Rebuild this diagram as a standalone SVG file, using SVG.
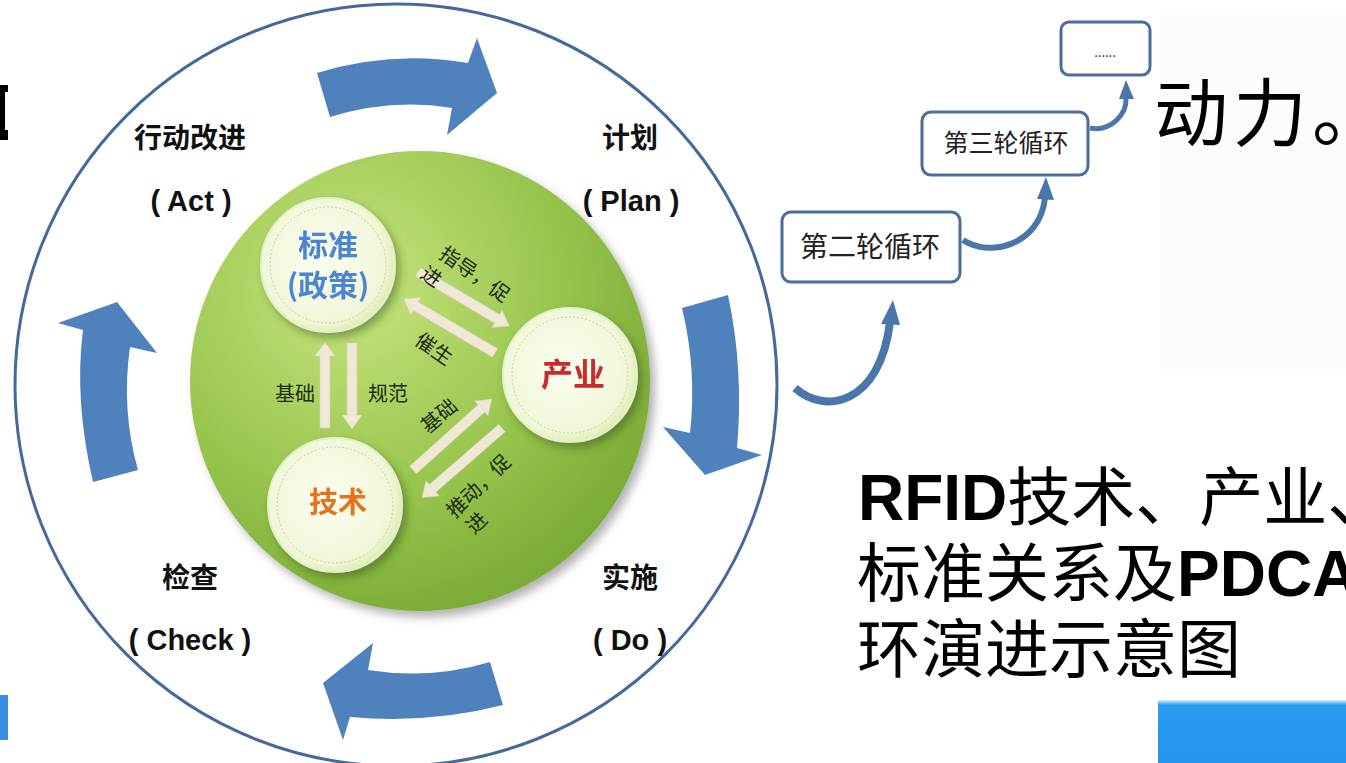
<svg xmlns="http://www.w3.org/2000/svg" width="1346" height="763" viewBox="0 0 1346 763">
<style>
.cn{font-family:"Noto Sans CJK SC","Liberation Sans",sans-serif;}
.phase{font-family:"Noto Sans CJK SC",sans-serif;font-size:28px;font-weight:bold;fill:#111;text-anchor:middle;}
.eng{font-family:"Liberation Sans","Noto Sans CJK SC",sans-serif;font-size:29px;font-weight:bold;fill:#111;text-anchor:middle;}
.rel{font-family:"Noto Sans CJK SC",sans-serif;font-size:20px;fill:#1e2a10;}
.box{fill:#fff;stroke:#4a6f9c;stroke-width:3;}
.boxt{font-family:"Noto Sans CJK SC",sans-serif;fill:#222;text-anchor:middle;}
.cyc{fill:#4f81bd;}
.carr{fill:#eee8d5;stroke:#d9d2bb;stroke-width:0.6;}
.link{fill:none;stroke:#4a76ab;}
.linkhead{fill:#4a76ab;}
.title{font-family:"Noto Sans CJK SC","Liberation Sans",sans-serif;font-size:64px;fill:#000;}
</style>
<defs>
<radialGradient id="green" cx="0.35" cy="0.3" r="0.75">
<stop offset="0" stop-color="#c8e47e"/>
<stop offset="0.6" stop-color="#98c54e"/>
<stop offset="1" stop-color="#7aab35"/>
</radialGradient>
<radialGradient id="node" cx="0.45" cy="0.45" r="0.6">
<stop offset="0" stop-color="#fbfdf0"/>
<stop offset="0.8" stop-color="#f0f7d8"/>
<stop offset="1" stop-color="#d6e9a8"/>
</radialGradient>
<linearGradient id="bluebox" x1="0" y1="0" x2="0" y2="1">
<stop offset="0" stop-color="#d8f0ff"/>
<stop offset="0.08" stop-color="#2a9cf2"/>
<stop offset="1" stop-color="#2594ee"/>
</linearGradient>
<filter id="shadow" x="-20%" y="-20%" width="150%" height="150%">
<feDropShadow dx="4" dy="5" stdDeviation="4" flood-color="#2f4a14" flood-opacity="0.45"/>
</filter>
<filter id="gshadow" x="-10%" y="-10%" width="125%" height="125%">
<feDropShadow dx="5" dy="6" stdDeviation="5" flood-color="#555" flood-opacity="0.45"/>
</filter>
<polygon id="ca106" points="0,-5 92,-5 92,-10 106,0 92,10 92,5 0,5"/>
<polygon id="ca86" points="0,-5 72,-5 72,-10 86,0 72,10 72,5 0,5"/>
</defs>

<rect width="1346" height="763" fill="#fff"/>
<rect x="1160" y="15" width="186" height="355" fill="#fdfbfc"/>

<!-- edge fragments -->
<path d="M0,85 H8 V92 H5 V130 H8 V140 H0 Z" fill="#000"/>
<rect x="0" y="695" width="8" height="45" fill="#3a8ee0"/>
<rect x="1158" y="700" width="188" height="63" fill="url(#bluebox)"/>

<!-- outer cycle -->
<g id="outer-ring">
<circle cx="396" cy="385" r="381" fill="none" stroke="#44699a" stroke-width="3"/>
</g>

<g id="cycle-arrows">
<path class="cyc" d="M317,73 Q392,50 468,63 L477,38 L497,93 L447,135 L452,108 Q392,98 330,117 Z"/>
<path class="cyc" d="M682,308 L728,295 Q744,370 737,448 L762,455 L705,475 L663,427 L690,433 Q697,370 682,308 Z"/>
<path class="cyc" d="M490,662 Q430,680 368,670 L373,643 L323,683 L343,740 L350,717 Q430,724 503,705 Z"/>
<path class="cyc" d="M93,482 Q74,400 83,330 L58,323 L117,302 L157,353 L130,347 Q121,410 138,470 Z"/>
</g>

<g id="phase-labels">
<text class="phase" x="190" y="148">行动改进</text>
<text class="eng" x="191" y="211">( Act )</text>
<text class="phase" x="630" y="148">计划</text>
<text class="eng" x="631" y="211">( Plan )</text>
<text class="phase" x="190" y="588">检查</text>
<text class="eng" x="190" y="650">( Check )</text>
<text class="phase" x="630" y="588">实施</text>
<text class="eng" x="630" y="650">( Do )</text>
</g>

<g id="core">
<circle cx="420" cy="381" r="230" fill="url(#green)" filter="url(#gshadow)"/>
</g>

<g id="connectors">
<use href="#ca86" class="carr" transform="translate(325,428) rotate(-90)"/>
<use href="#ca86" class="carr" transform="translate(352,343) rotate(90)"/>
<use href="#ca106" class="carr" transform="translate(418,272) rotate(30.6)"/>
<use href="#ca106" class="carr" transform="translate(495,353) rotate(210.6)"/>
<use href="#ca106" class="carr" transform="translate(413,470) rotate(-42)"/>
<use href="#ca106" class="carr" transform="translate(502,428) rotate(139)"/>
<text class="rel" x="275" y="401">基础</text>
<text class="rel" x="368" y="401">规范</text>
<text class="rel" transform="translate(450,257) rotate(35)"><tspan x="-10" y="7">指导，促</tspan><tspan x="-14" y="34">进</tspan></text>
<text class="rel" transform="translate(434,349) rotate(35)" x="-20" y="7">催生</text>
<text class="rel" transform="translate(439,416) rotate(-40)" x="-20" y="7">基础</text>
<text class="rel" transform="translate(457,507) rotate(-44)"><tspan x="-10" y="7">推动，促</tspan><tspan x="-7" y="32">进</tspan></text>

<path class="link" stroke-width="8" d="M795,388 C825,415 880,405 890,322"/>
<polygon class="linkhead" points="893,300 881,324 900,325"/>
<path class="link" stroke-width="6" d="M963,240 C990,258 1040,245 1045,198"/>
<polygon class="linkhead" points="1046,177 1037,199 1054,200"/>
<path class="link" stroke-width="5" d="M1090,128 C1110,132 1127,115 1126,98"/>
<polygon class="linkhead" points="1126,80 1119,99 1134,99"/>
</g>

<g id="node-standard" filter="url(#shadow)">
<circle cx="328" cy="265" r="67" fill="url(#node)" stroke="#e4f0c8" stroke-width="2"/>
<circle cx="328" cy="265" r="58" fill="none" stroke="#b8c89a" stroke-width="0.8" stroke-dasharray="2 2"/>
<text class="cn" x="328" y="256" font-size="30" font-weight="bold" fill="#4d86d0" text-anchor="middle">标准</text>
<text class="cn" x="328" y="296" font-size="30" font-weight="bold" fill="#4d86d0" text-anchor="middle">(政策)</text>
</g>

<g id="node-industry" filter="url(#shadow)">
<circle cx="570" cy="375" r="67" fill="url(#node)" stroke="#e4f0c8" stroke-width="2"/>
<circle cx="570" cy="375" r="58" fill="none" stroke="#b8c89a" stroke-width="0.8" stroke-dasharray="2 2"/>
<text class="cn" x="573" y="386" font-size="32" font-weight="bold" fill="#c92b2f" text-anchor="middle">产业</text>
</g>

<g id="node-tech" filter="url(#shadow)">
<circle cx="335" cy="505" r="67" fill="url(#node)" stroke="#e4f0c8" stroke-width="2"/>
<circle cx="335" cy="505" r="58" fill="none" stroke="#b8c89a" stroke-width="0.8" stroke-dasharray="2 2"/>
<text class="cn" x="338" y="513" font-size="29" font-weight="bold" fill="#e5731c" text-anchor="middle">技术</text>
</g>

<g id="box-round2">
<rect class="box" x="782" y="212" width="178" height="70" rx="9"/>
<text class="boxt" x="870" y="257" font-size="28">第二轮循环</text>
</g>
<g id="box-round3">
<rect class="box" x="922" y="112" width="166" height="63" rx="9"/>
<text class="boxt" x="1006" y="152" font-size="25">第三轮循环</text>
</g>
<g id="box-more">
<rect class="box" x="1061" y="22" width="89" height="53" rx="8"/>
<text class="boxt" x="1105" y="57" font-size="13" fill="#6b5440">......</text>
</g>

<g id="side-text">
<text class="cn" x="1154" y="140" font-size="74" letter-spacing="5" fill="#000">动力。</text>
</g>

<g id="title">
<text class="title" x="858" y="520"><tspan font-family="Liberation Sans, sans-serif" font-weight="bold">RFID</tspan>技术、产业、</text>
<text class="title" x="857" y="596">标准关系及<tspan font-family="Liberation Sans, sans-serif" font-weight="bold">PDCA</tspan></text>
<text class="title" x="857" y="672">环演进示意图</text>
</g>
</svg>
